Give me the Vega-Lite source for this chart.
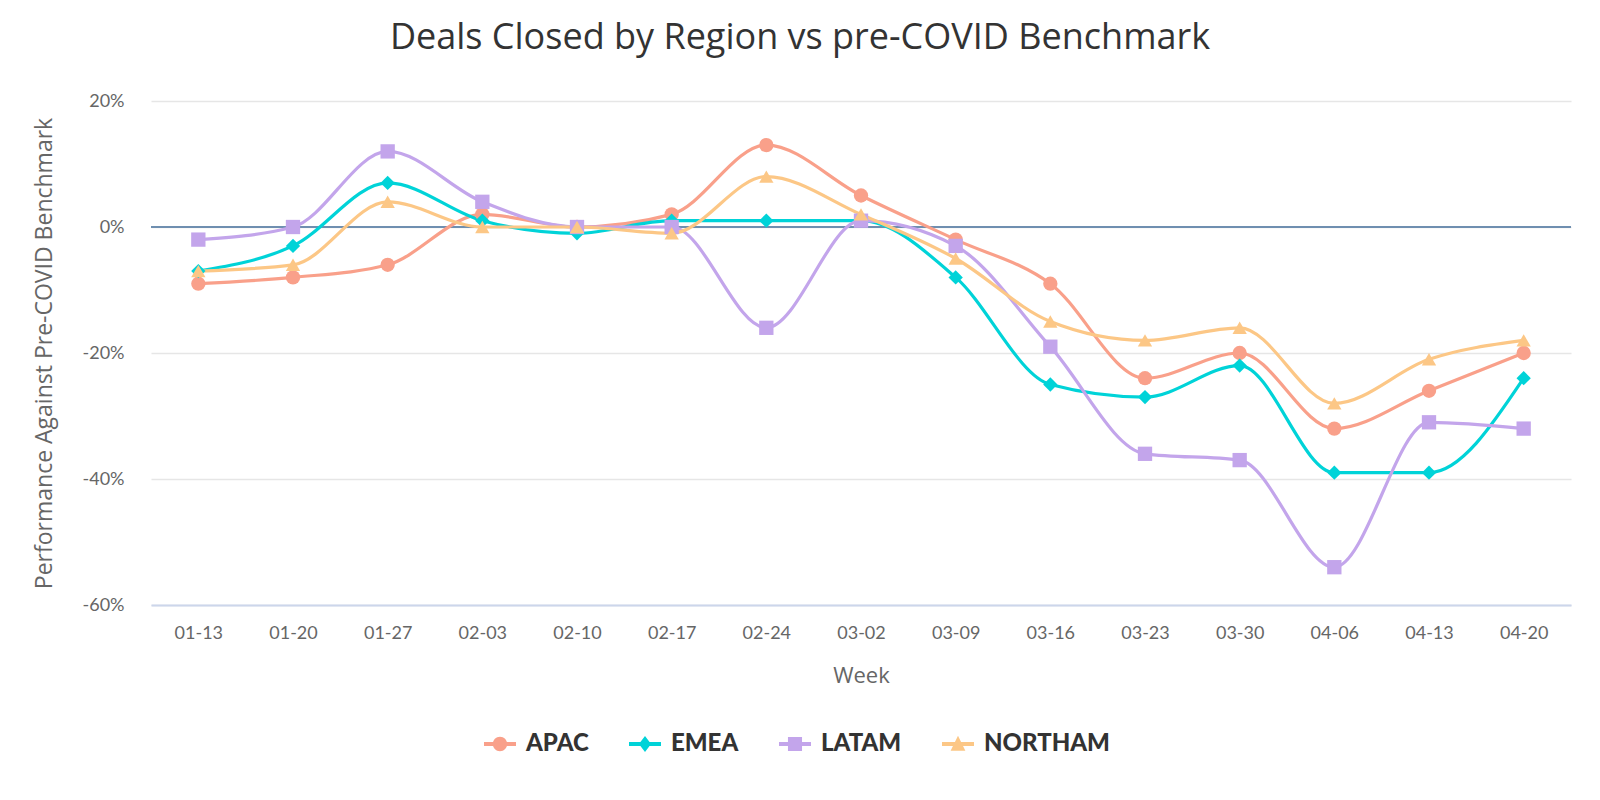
{
  "$schema": "https://vega.github.io/schema/vega-lite/v6.json",
  "autosize": {"type": "none"},
  "width": 1420,
  "height": 504,
  "padding": {"left": 151, "top": 101, "right": 29, "bottom": 195},
  "background": "white",
  "config": {
    "font": "Lato",
    "view": {"stroke": null},
    "axis": {"labelFont": "Lato", "titleFont": "Open Sans", "labelColor": "#666666", "titleColor": "#666666", "titleFontWeight": "normal"}
  },
  "title": {
    "text": "Deals Closed by Region vs pre-COVID Benchmark",
    "fontSize": 36,
    "fontWeight": "normal",
    "color": "#333333",
    "font": "Open Sans",
    "anchor": "middle",
    "dx": -61,
    "offset": 35
  },
  "data": {
    "values": [
      {"week": "01-13", "region": "APAC", "value": -9},
      {"week": "01-20", "region": "APAC", "value": -8},
      {"week": "01-27", "region": "APAC", "value": -6},
      {"week": "02-03", "region": "APAC", "value": 2},
      {"week": "02-10", "region": "APAC", "value": 0},
      {"week": "02-17", "region": "APAC", "value": 2},
      {"week": "02-24", "region": "APAC", "value": 13},
      {"week": "03-02", "region": "APAC", "value": 5},
      {"week": "03-09", "region": "APAC", "value": -2},
      {"week": "03-16", "region": "APAC", "value": -9},
      {"week": "03-23", "region": "APAC", "value": -24},
      {"week": "03-30", "region": "APAC", "value": -20},
      {"week": "04-06", "region": "APAC", "value": -32},
      {"week": "04-13", "region": "APAC", "value": -26},
      {"week": "04-20", "region": "APAC", "value": -20},
      {"week": "01-13", "region": "EMEA", "value": -7},
      {"week": "01-20", "region": "EMEA", "value": -3},
      {"week": "01-27", "region": "EMEA", "value": 7},
      {"week": "02-03", "region": "EMEA", "value": 1},
      {"week": "02-10", "region": "EMEA", "value": -1},
      {"week": "02-17", "region": "EMEA", "value": 1},
      {"week": "02-24", "region": "EMEA", "value": 1},
      {"week": "03-02", "region": "EMEA", "value": 1},
      {"week": "03-09", "region": "EMEA", "value": -8},
      {"week": "03-16", "region": "EMEA", "value": -25},
      {"week": "03-23", "region": "EMEA", "value": -27},
      {"week": "03-30", "region": "EMEA", "value": -22},
      {"week": "04-06", "region": "EMEA", "value": -39},
      {"week": "04-13", "region": "EMEA", "value": -39},
      {"week": "04-20", "region": "EMEA", "value": -24},
      {"week": "01-13", "region": "LATAM", "value": -2},
      {"week": "01-20", "region": "LATAM", "value": 0},
      {"week": "01-27", "region": "LATAM", "value": 12},
      {"week": "02-03", "region": "LATAM", "value": 4},
      {"week": "02-10", "region": "LATAM", "value": 0},
      {"week": "02-17", "region": "LATAM", "value": 0},
      {"week": "02-24", "region": "LATAM", "value": -16},
      {"week": "03-02", "region": "LATAM", "value": 1},
      {"week": "03-09", "region": "LATAM", "value": -3},
      {"week": "03-16", "region": "LATAM", "value": -19},
      {"week": "03-23", "region": "LATAM", "value": -36},
      {"week": "03-30", "region": "LATAM", "value": -37},
      {"week": "04-06", "region": "LATAM", "value": -54},
      {"week": "04-13", "region": "LATAM", "value": -31},
      {"week": "04-20", "region": "LATAM", "value": -32},
      {"week": "01-13", "region": "NORTHAM", "value": -7},
      {"week": "01-20", "region": "NORTHAM", "value": -6},
      {"week": "01-27", "region": "NORTHAM", "value": 4},
      {"week": "02-03", "region": "NORTHAM", "value": 0},
      {"week": "02-10", "region": "NORTHAM", "value": 0},
      {"week": "02-17", "region": "NORTHAM", "value": -1},
      {"week": "02-24", "region": "NORTHAM", "value": 8},
      {"week": "03-02", "region": "NORTHAM", "value": 2},
      {"week": "03-09", "region": "NORTHAM", "value": -5},
      {"week": "03-16", "region": "NORTHAM", "value": -15},
      {"week": "03-23", "region": "NORTHAM", "value": -18},
      {"week": "03-30", "region": "NORTHAM", "value": -16},
      {"week": "04-06", "region": "NORTHAM", "value": -28},
      {"week": "04-13", "region": "NORTHAM", "value": -21},
      {"week": "04-20", "region": "NORTHAM", "value": -18}
    ]
  },
  "encoding": {
    "x": {
      "field": "week",
      "type": "ordinal",
      "sort": null,
      "scale": {"type": "point", "padding": 0.5},
      "axis": {
        "title": "Week",
        "labelAngle": 0,
        "labelFontSize": 18,
        "titleFontSize": 22,
        "ticks": false,
        "labelPadding": 19,
        "titlePadding": 23,
        "domainColor": "#ccd6eb",
        "domainWidth": 2,
        "grid": false
      }
    },
    "y": {
      "field": "value",
      "type": "quantitative",
      "scale": {"domain": [-60, 20], "nice": false, "zero": false},
      "axis": {
        "title": "Performance Against Pre-COVID Benchmark",
        "values": [-60, -40, -20, 0, 20],
        "labelExpr": "datum.value + '%'",
        "labelFontSize": 18,
        "titleFontSize": 23,
        "ticks": false,
        "domain": false,
        "labelPadding": 27,
        "titlePadding": 26,
        "gridColor": "#e6e6e6",
        "gridWidth": 1.5
      }
    }
  },
  "resolve": {"scale": {"color": "independent", "shape": "independent"}},
  "layer": [
    {
      "mark": {"type": "rule", "color": "#6f8fb0", "strokeWidth": 2},
      "encoding": {"y": {"datum": 0}, "x": null}
    },
    {
      "mark": {"type": "line", "strokeWidth": 3.2, "interpolate": "monotone"},
      "encoding": {
        "color": {
          "field": "region",
          "type": "nominal",
          "scale": {"domain": ["APAC", "EMEA", "LATAM", "NORTHAM"], "range": ["#f9a08a", "#00d3d8", "#c3a5eb", "#fcc786"]},
          "legend": null
        }
      }
    },
    {
      "mark": {"type": "point", "filled": true, "opacity": 1, "size": 205},
      "encoding": {
        "color": {
          "field": "region",
          "type": "nominal",
          "scale": {"domain": ["APAC", "EMEA", "LATAM", "NORTHAM"], "range": ["#f9a08a", "#00d3d8", "#c3a5eb", "#fcc786"]},
          "legend": null
        },
        "shape": {
          "field": "region",
          "type": "nominal",
          "scale": {"domain": ["APAC", "EMEA", "LATAM", "NORTHAM"], "range": ["circle", "diamond", "square", "triangle-up"]},
          "legend": null
        }
      }
    },
    {
      "transform": [{"filter": "datum.value > 1000"}],
      "mark": {"type": "point", "filled": true, "opacity": 1, "strokeWidth": 0},
      "encoding": {
        "color": {
          "field": "region",
          "type": "nominal",
          "scale": {"domain": ["APAC", "EMEA", "LATAM", "NORTHAM"], "range": ["#f9a08a", "#00d3d8", "#c3a5eb", "#fcc786"]},
          "legend": {
            "title": null,
            "orient": "none",
            "direction": "horizontal",
            "legendX": 333,
            "legendY": 627,
            "labelFontSize": 24,
            "labelFont": "Lato",
            "labelFontWeight": 900,
            "labelColor": "#333333",
            "symbolSize": 1024,
            "symbolStrokeWidth": 0,
            "symbolOpacity": 1,
            "columnPadding": 40,
            "labelOffset": 10
          }
        },
        "shape": {
          "field": "region",
          "type": "nominal",
          "scale": {
            "domain": ["APAC", "EMEA", "LATAM", "NORTHAM"],
            "range": [
              "M-1,-0.12H1V0.12H-1Z M0.45,0A0.45,0.45 0 1,1 -0.45,0A0.45,0.45 0 1,1 0.45,0Z",
              "M-1,-0.12H1V0.12H-1Z M0,-0.5L0.38,0L0,0.5L-0.38,0Z",
              "M-1,-0.12H1V0.12H-1Z M-0.44,-0.44H0.44V0.44H-0.44Z",
              "M-1,-0.12H1V0.12H-1Z M0,-0.52L0.46,0.42L-0.46,0.42Z"
            ]
          },
          "legend": {
            "title": null,
            "orient": "none",
            "direction": "horizontal",
            "legendX": 333,
            "legendY": 627,
            "labelFontSize": 24,
            "labelFont": "Lato",
            "labelFontWeight": 900,
            "labelColor": "#333333",
            "symbolSize": 1024,
            "symbolStrokeWidth": 0,
            "symbolOpacity": 1,
            "columnPadding": 40,
            "labelOffset": 10
          }
        }
      }
    }
  ]
}
